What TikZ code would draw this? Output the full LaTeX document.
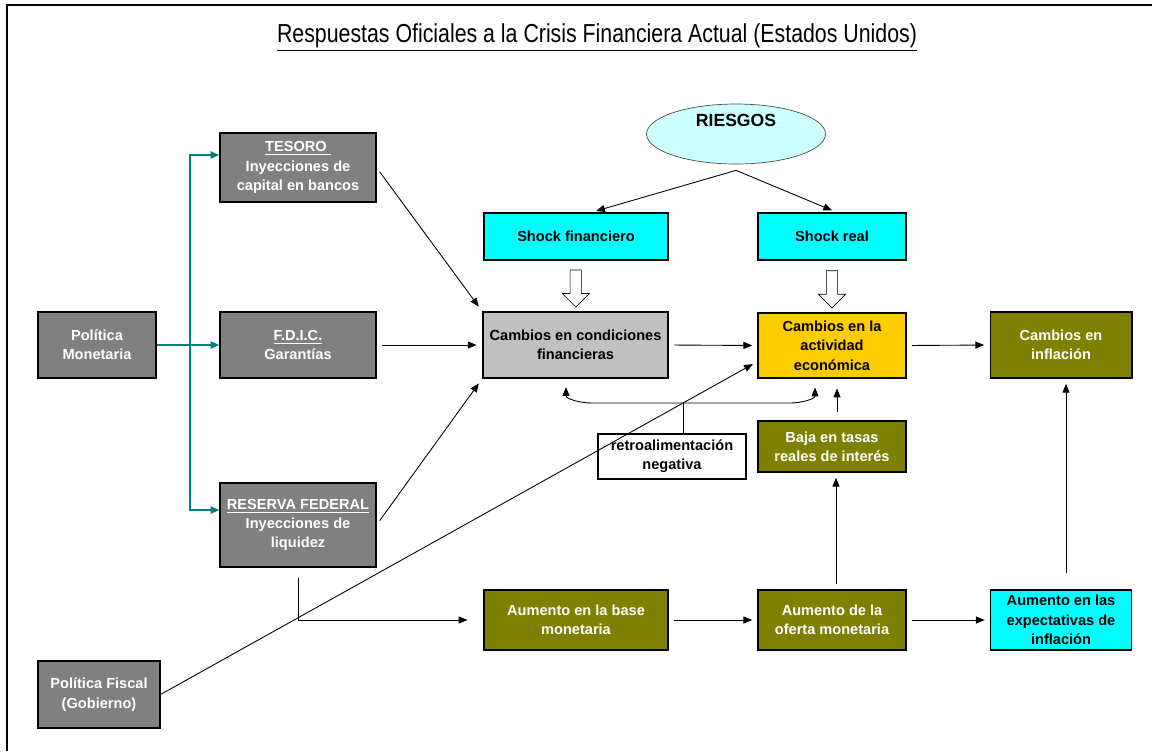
\documentclass[tikz,border=0pt]{standalone}
\usepackage{fontspec}
\setmainfont{Liberation Sans}
\newfontfamily\narrowfont[FakeStretch=0.82]{Liberation Sans}
\usepackage{tikz}
\usetikzlibrary{positioning,arrows.meta,shapes.geometric,shapes.arrows,calc}
\usepackage{xcolor}
\definecolor{boxgray}{RGB}{128,128,128}
\definecolor{condgray}{RGB}{192,192,192}
\definecolor{shockcyan}{RGB}{0,255,255}
\definecolor{riskcyan}{RGB}{204,255,255}
\definecolor{actyellow}{RGB}{255,204,0}
\definecolor{moneyolive}{RGB}{128,128,0}
\definecolor{linkteal}{RGB}{0,128,128}

\begin{document}
\begin{tikzpicture}[x=0.02cm,y=-0.02cm,
  box/.style={rectangle,draw=black,line width=0.6pt,align=center,
    font=\fontsize{8.3}{11}\selectfont\bfseries,inner sep=1pt},
  govbox/.style={box,fill=boxgray,text=white},
  shockbox/.style={box,fill=shockcyan},
  olivebox/.style={box,fill=moneyolive,text=white},
  arw/.style={-{Triangle[length=5pt,width=4pt]},line width=0.5pt,
    shorten >=3pt,shorten <=3pt},
  tealarw/.style={-{Triangle[length=5pt,width=4pt]},linkteal,line width=1pt},
  hollow/.style={single arrow,draw,fill=white,shape border rotate=270,
    inner sep=3pt,single arrow head extend=4.5pt,minimum height=0.74cm}]
\useasboundingbox (0,0) rectangle (1152,751);
% frame and title
\draw[line width=1.4pt] (7,751) -- (7,5) -- (1152,5);
\node[font=\narrowfont\fontsize{14.8}{16}\selectfont] (title) at (597,38)
  {\underline{Respuestas Oficiales a la Crisis Financiera Actual (Estados Unidos)}};

% left column
\node[govbox,minimum width=2.36cm,minimum height=1.32cm] (polmon) at (97,345)
  {Política\\Monetaria};
\node[govbox,minimum width=2.44cm,minimum height=1.34cm] (polfis) at (99,694.5)
  {Política Fiscal\\(Gobierno)};
\node[govbox,minimum width=3.12cm,minimum height=1.38cm] (tesoro) at (298,167.5)
  {\underline{TESORO~}\\Inyecciones de\\capital en bancos};
\node[govbox,minimum width=3.12cm,minimum height=1.32cm] (fdic) at (298,345)
  {\underline{F.D.I.C.}\\Garantías};
\node[govbox,minimum width=3.12cm,minimum height=1.68cm] (reserva) at (298,525)
  {\underline{RESERVA FEDERAL}\\Inyecciones de\\liquidez};

% risks and shocks
\node[ellipse,draw=black!70,fill=riskcyan,minimum width=3.58cm,
  minimum height=1.2cm] (riesgos) at (736,134) {};
\node[font=\fontsize{10}{12}\selectfont\bfseries] (riesgostxt) at (736,120) {RIESGOS};
\node[shockbox,minimum width=3.68cm,minimum height=0.94cm] (shockfin) at (576,236.5)
  {Shock financiero};
\node[shockbox,minimum width=2.96cm,minimum height=0.94cm] (shockreal) at (832,236.5)
  {Shock real};

% middle row
\node[box,fill=condgray,line width=1.3pt,minimum width=3.7cm,minimum height=1.32cm]
  (condfin) at (575.5,345) {Cambios en condiciones\\financieras};
\node[box,fill=actyellow,minimum width=2.96cm,minimum height=1.3cm] (actividad)
  at (832,345.5) {Cambios en la\\actividad\\económica};
\node[olivebox,minimum width=2.84cm,minimum height=1.32cm] (inflacion) at (1061,345)
  {Cambios en\\inflación};
\node[box,fill=white,minimum width=2.96cm,minimum height=0.9cm] (retro) at (672,456.5)
  {retroalimentación\\negativa};
\node[olivebox,minimum width=2.96cm,minimum height=1.02cm] (baja) at (832,446.5)
  {Baja en tasas\\reales de interés};

% bottom row
\node[olivebox,minimum width=3.68cm,minimum height=1.2cm] (base) at (576,620)
  {Aumento en la base\\monetaria};
\node[olivebox,minimum width=2.96cm,minimum height=1.2cm] (oferta) at (832,620)
  {Aumento de la\\oferta monetaria};
\node[shockbox,minimum width=2.82cm,minimum height=1.2cm] (expect) at (1061,620)
  {Aumento en las\\expectativas de\\inflación};

% hollow arrows from shocks
\node[hollow] (harrowfin) at ($(shockfin.south)!0.5!(condfin.north)$) {};
\node[hollow] (harrowreal) at ($(shockreal.south)!0.5!(actividad.north)$) {};

% teal links from monetary policy
\coordinate (tj) at (190,345);
\draw[linkteal,line width=1pt] (polmon.east) -- (tj);
\draw[tealarw] (tj) |- ([yshift=.25cm]tesoro.west);
\draw[tealarw] (tj) -- (fdic.west);
\draw[tealarw] (tj) |- ([yshift=.3cm]reserva.west);

% arrows
\draw[arw] (tesoro.east) -- (condfin.north west);
\draw[arw] (fdic.east) -- (condfin.west);
\draw[arw] (reserva.east) -- (condfin.south west);
\draw[arw,shorten <=0pt] ([yshift=-.12cm]riesgos.south) -- ([xshift=.3cm]shockfin.north);
\draw[arw,shorten <=0pt] ([yshift=-.12cm]riesgos.south) -- ([xshift=.1cm]shockreal.north);
\draw[arw] (condfin.east) -- (actividad.west);
\draw[arw] (actividad.east) -- (inflacion.west);
\draw[arw,shorten <=0pt] (polfis.east) -- ([yshift=-.32cm]actividad.west);
\draw[arw,shorten <=0pt,shorten >=0pt] ([yshift=-.2cm]reserva.south)
  |- ([xshift=-.32cm]base.west);
\draw[arw] (base.east) -- (oferta.west);
\draw[arw] (oferta.east) -- (expect.west);
\draw[arw] ([xshift=.08cm]oferta.north) -- ([xshift=.08cm]baja.south);
\draw[arw,shorten <=0pt,shorten >=0pt] ([xshift=.1cm,yshift=.16cm]baja.north)
  -- ([xshift=.1cm,yshift=-.2cm]actividad.south);
\draw[arw,shorten <=0.32cm] ([xshift=.1cm]expect.north) -- ([xshift=.1cm]inflacion.south);

% negative feedback bracket
\coordinate (fb) at (683,403);
\draw[line width=0.5pt] (retro.north -| fb) -- (fb);
\draw[arw,shorten <=0pt,shorten >=0pt] (fb) -- (592,403)
  to[out=180,in=-90] ([xshift=-.19cm,yshift=-.16cm]condfin.south);
\draw[arw,shorten <=0pt,shorten >=0pt] (fb) -- (790,403)
  to[out=0,in=-90] ([xshift=-.34cm,yshift=-.18cm]actividad.south);
\end{tikzpicture}
\end{document}
